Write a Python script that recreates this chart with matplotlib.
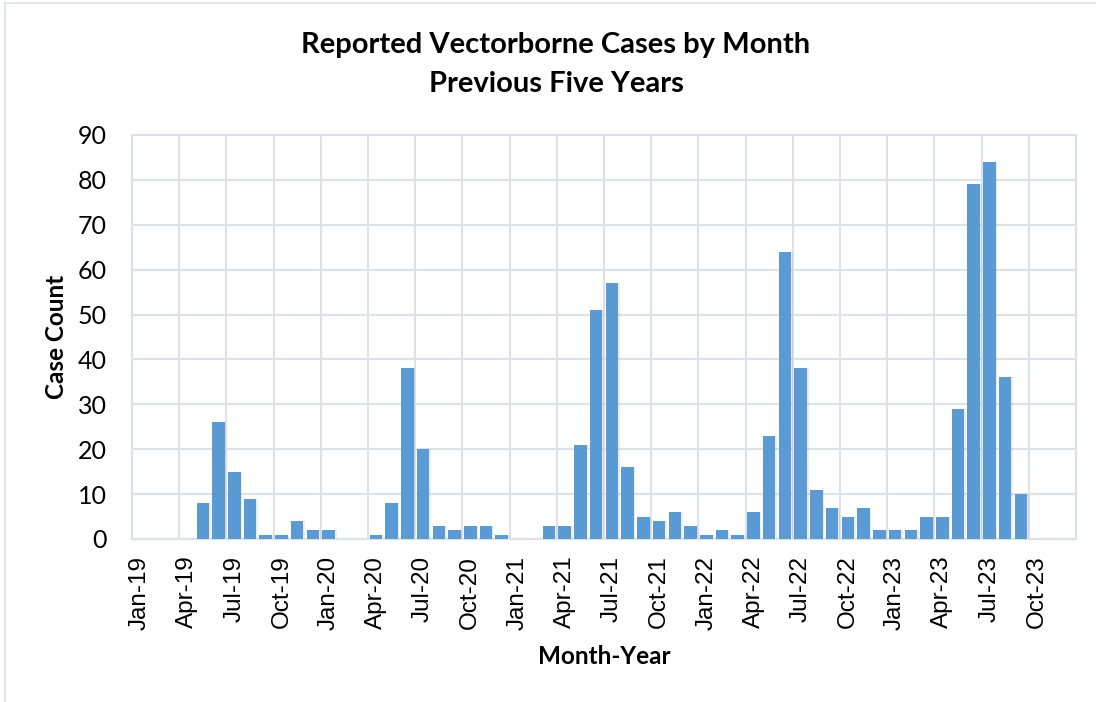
import numpy as np
import matplotlib
matplotlib.use("Agg")
import matplotlib.pyplot as plt
from matplotlib.lines import Line2D

# monthly labels Jan-19 .. Dec-23
months = ["Jan", "Feb", "Mar", "Apr", "May", "Jun",
          "Jul", "Aug", "Sep", "Oct", "Nov", "Dec"]
years = ["19", "20", "21", "22", "23"]
month_labels = [m + "-" + y for y in years for m in months]

cases_2019 = [0, 0, 0, 0, 8, 26, 15, 9, 1, 1, 4, 2]
cases_2020 = [2, 0, 0, 1, 8, 38, 20, 3, 2, 3, 3, 1]
cases_2021 = [0, 0, 3, 3, 21, 51, 57, 16, 5, 4, 6, 3]
cases_2022 = [1, 2, 1, 6, 23, 64, 38, 11, 7, 5, 7, 2]
cases_2023 = [2, 2, 5, 5, 29, 79, 84, 36, 10, 0, 0, 0]
cases = cases_2019 + cases_2020 + cases_2021 + cases_2022 + cases_2023

bar_color = "#5B9BD5"
grid_color = "#DDE1E8"

fig = plt.figure(figsize=(10.96, 7.02), dpi=100)
ax = fig.add_axes([132/1096, 1 - 539/702, (1076-132)/1096, (539-135)/702])

x = np.arange(len(cases))
# soft shadow behind bars
ax.bar(x + 0.1, cases, width=0.8, color="#000000", alpha=0.07, zorder=2, linewidth=0)
ax.bar(x, cases, width=0.8, color=bar_color, zorder=3, linewidth=0)

ax.set_xlim(-0.5, len(cases) - 0.5)
ax.set_ylim(0, 90)
ax.set_yticks(range(0, 91, 10))

ax.set_xticks(x[::3])
ax.set_xticklabels(month_labels[::3], rotation=90, fontsize=17.5,
                   family="Liberation Sans")
ax.set_xticks(np.arange(-0.5, len(cases), 3), minor=True)
ax.tick_params(axis="x", which="both", length=0, pad=12)
ax.tick_params(axis="y", length=0, pad=18, labelsize=18)
for lab in ax.get_yticklabels():
    lab.set_family("Lato")

ax.grid(True, which="minor", axis="x", color=grid_color, linewidth=1.5, zorder=0)
ax.grid(True, which="major", axis="y", color=grid_color, linewidth=1.5, zorder=0)
ax.grid(False, which="major", axis="x")
ax.set_axisbelow(True)
for side in ax.spines:
    ax.spines[side].set_color(grid_color)
    ax.spines[side].set_linewidth(1.5)

fig.text(57/1096, 1 - 337/702, "Case Count", rotation=90, ha="center", va="center",
         fontsize=17.5, fontweight="bold", family="Lato")
fig.text(604/1096, 1 - 657/702, "Month-Year", ha="center", va="center",
         fontsize=17.5, fontweight="bold", family="Lato")

fig.text(556/1096, 1 - 45/702, "Reported Vectorborne Cases by Month",
         ha="center", va="center", fontsize=21, fontweight="bold", family="Lato")
fig.text(556/1096, 1 - 84/702, "Previous Five Years",
         ha="center", va="center", fontsize=21, fontweight="bold", family="Lato")

# chart frame (only left and top edges show in the crop)
fig.add_artist(Line2D([5/1096, 5/1096], [0, 1 - 3/702], color=grid_color, linewidth=1.2))
fig.add_artist(Line2D([5/1096, 1], [1 - 3/702, 1 - 3/702], color=grid_color, linewidth=1.2))

fig.savefig("out.png", dpi=100)
